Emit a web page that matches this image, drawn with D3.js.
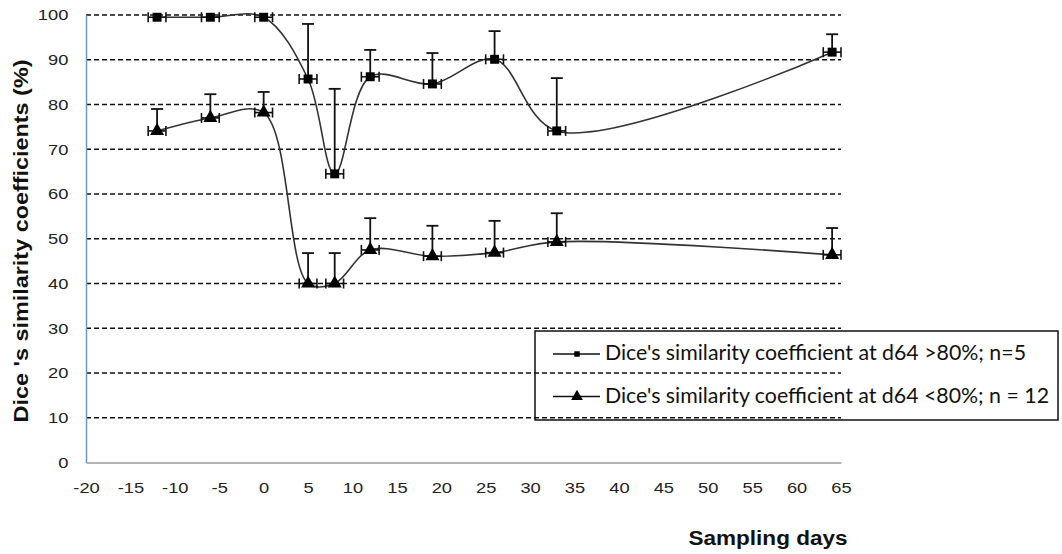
<!DOCTYPE html>
<html>
<head>
<meta charset="utf-8">
<script src="https://cdn.jsdelivr.net/npm/d3@7"></script>
<style>
  body { margin: 0; background: #fff; }
  svg { display: block; }
</style>
</head>
<body>
<svg id="chart" width="1062" height="554"></svg>
<script>
var days = [-12, -6, 0, 5, 8, 12, 19, 26, 33, 64];
var highValues = [99.5, 99.5, 99.5, 85.7, 64.5, 86.2, 84.6, 90.1, 74.1, 91.7];
var highErrors = [0, 0, 0, 12.3, 19.0, 6.0, 6.9, 6.3, 11.8, 4.0];
var lowValues = [74.1, 77.0, 78.2, 40.0, 40.0, 47.5, 46.1, 46.9, 49.3, 46.4];
var lowErrors = [4.9, 5.3, 4.6, 6.8, 6.8, 7.1, 6.8, 7.1, 6.4, 6.0];
var dayError = 1;
var xTicks = [-20, -15, -10, -5, 0, 5, 10, 15, 20, 25, 30, 35, 40, 45, 50, 55, 60, 65];
var yTicks = [0, 10, 20, 30, 40, 50, 60, 70, 80, 90, 100];
var legendLabels = ["Dice's similarity coefficient at d64 >80%; n=5",
                    "Dice's similarity coefficient at d64 <80%; n = 12"];

var svg = d3.select("#chart");
var x = d3.scaleLinear().domain([-20, 65]).range([86, 841]);
var y = d3.scaleLinear().domain([0, 100]).range([462.5, 15]);

// gridlines
svg.append("g").selectAll("line")
    .data(yTicks.slice(1))
    .enter().append("line")
    .attr("x1", x(-20)).attr("x2", x(65))
    .attr("y1", function (d) { return y(d); })
    .attr("y2", function (d) { return y(d); })
    .attr("stroke", "#111")
    .attr("stroke-width", 1.6)
    .attr("stroke-dasharray", "5,3");

// axes
var fmt = function (d) { return String(d); };
var yAxis = svg.append("g")
    .attr("transform", "translate(" + x(-20) + ",0)")
    .call(d3.axisLeft(y).tickValues(yTicks).tickFormat(fmt).tickSize(0).tickPadding(14.5));
yAxis.select(".domain").attr("stroke", "#6f97cc").attr("stroke-width", 1.5);
var xAxis = svg.append("g")
    .attr("transform", "translate(0," + y(0) + ")")
    .call(d3.axisBottom(x).tickValues(xTicks).tickFormat(fmt).tickSize(0).tickPadding(20));
xAxis.select(".domain").attr("stroke", "#9a9a9a").attr("stroke-width", 1.5);
// the picture is a bit stretched sideways, so the digits are too
svg.selectAll(".tick text")
    .attr("font-family", "Liberation Sans, Arial, sans-serif")
    .attr("font-size", 15)
    .attr("transform", "scale(1.22,1)")
    .attr("fill", "#222");

// titles
svg.append("text")
    .attr("transform", "translate(28,241) rotate(-90)")
    .attr("text-anchor", "middle")
    .attr("font-family", "Liberation Sans, Arial, sans-serif")
    .attr("font-weight", "bold")
    .attr("font-size", 21)
    .attr("textLength", 363)
    .attr("lengthAdjust", "spacingAndGlyphs")
    .attr("fill", "#111")
    .text("Dice 's similarity coefficients  (%)");
svg.append("text")
    .attr("x", 768).attr("y", 545)
    .attr("text-anchor", "middle")
    .attr("font-family", "Liberation Sans, Arial, sans-serif")
    .attr("font-weight", "bold")
    .attr("font-size", 20)
    .attr("textLength", 159)
    .attr("lengthAdjust", "spacingAndGlyphs")
    .attr("fill", "#111")
    .text("Sampling days");

var line = d3.line()
    .x(function (d) { return x(d[0]); })
    .y(function (d) { return y(d[1]); })
    .curve(d3.curveCatmullRom.alpha(0.5));

function drawSeries(values, errors, symbol, size) {
    var pts = days.map(function (d, i) { return [d, values[i], errors[i]]; });
    var g = svg.append("g");
    g.append("path")
        .datum(pts)
        .attr("d", line)
        .attr("fill", "none")
        .attr("stroke", "#333")
        .attr("stroke-width", 1.6);

    // vertical (plus) error bars
    var eb = g.selectAll(".eb").data(pts.filter(function (p) { return p[2] > 0; }))
        .enter().append("g");
    eb.append("line")
        .attr("x1", function (p) { return x(p[0]); })
        .attr("x2", function (p) { return x(p[0]); })
        .attr("y1", function (p) { return y(p[1]); })
        .attr("y2", function (p) { return y(p[1] + p[2]); });
    eb.append("line")
        .attr("x1", function (p) { return x(p[0]) - 6; })
        .attr("x2", function (p) { return x(p[0]) + 6; })
        .attr("y1", function (p) { return y(p[1] + p[2]); })
        .attr("y2", function (p) { return y(p[1] + p[2]); });
    eb.selectAll("line").attr("stroke", "#111").attr("stroke-width", 1.8);

    // horizontal error bars (days)
    var hb = g.selectAll(".hb").data(pts).enter().append("g");
    hb.append("line")
        .attr("x1", function (p) { return x(p[0] - dayError); })
        .attr("x2", function (p) { return x(p[0] + dayError); })
        .attr("y1", function (p) { return y(p[1]); })
        .attr("y2", function (p) { return y(p[1]); });
    hb.append("line")
        .attr("x1", function (p) { return x(p[0] - dayError); })
        .attr("x2", function (p) { return x(p[0] - dayError); })
        .attr("y1", function (p) { return y(p[1]) - 5; })
        .attr("y2", function (p) { return y(p[1]) + 5; });
    hb.append("line")
        .attr("x1", function (p) { return x(p[0] + dayError); })
        .attr("x2", function (p) { return x(p[0] + dayError); })
        .attr("y1", function (p) { return y(p[1]) - 5; })
        .attr("y2", function (p) { return y(p[1]) + 5; });
    hb.selectAll("line").attr("stroke", "#111").attr("stroke-width", 1.6);

    g.selectAll(".mk").data(pts).enter().append("path")
        .attr("transform", function (p) { return "translate(" + x(p[0]) + "," + y(p[1]) + ")"; })
        .attr("d", d3.symbol().type(symbol).size(size))
        .attr("fill", "#000");
}

drawSeries(highValues, highErrors, d3.symbolSquare, 80);
drawSeries(lowValues, lowErrors, d3.symbolTriangle, 85);

// legend (transparent box)
var lg = svg.append("g");
lg.append("rect")
    .attr("x", 535).attr("y", 331)
    .attr("width", 523).attr("height", 89)
    .attr("fill", "none")
    .attr("stroke", "#111")
    .attr("stroke-width", 1.5);
var legendSymbols = [d3.symbolSquare, d3.symbolTriangle];
var legendSizes = [30, 60];
var legendWidths = [421, 444];
legendLabels.forEach(function (label, i) {
    var ly = 354 + i * 42.5;
    lg.append("line")
        .attr("x1", 553).attr("x2", 600)
        .attr("y1", ly).attr("y2", ly)
        .attr("stroke", "#111").attr("stroke-width", 1.5);
    lg.append("path")
        .attr("transform", "translate(577," + ly + ")")
        .attr("d", d3.symbol().type(legendSymbols[i]).size(legendSizes[i]))
        .attr("fill", "#000");
    lg.append("text")
        .attr("x", 605).attr("y", ly + 6)
        .attr("font-family", "Lato, sans-serif")
        .attr("font-size", 21)
        .attr("textLength", legendWidths[i])
        .attr("lengthAdjust", "spacingAndGlyphs")
        .attr("fill", "#111")
        .text(label);
});
</script>
</body>
</html>
